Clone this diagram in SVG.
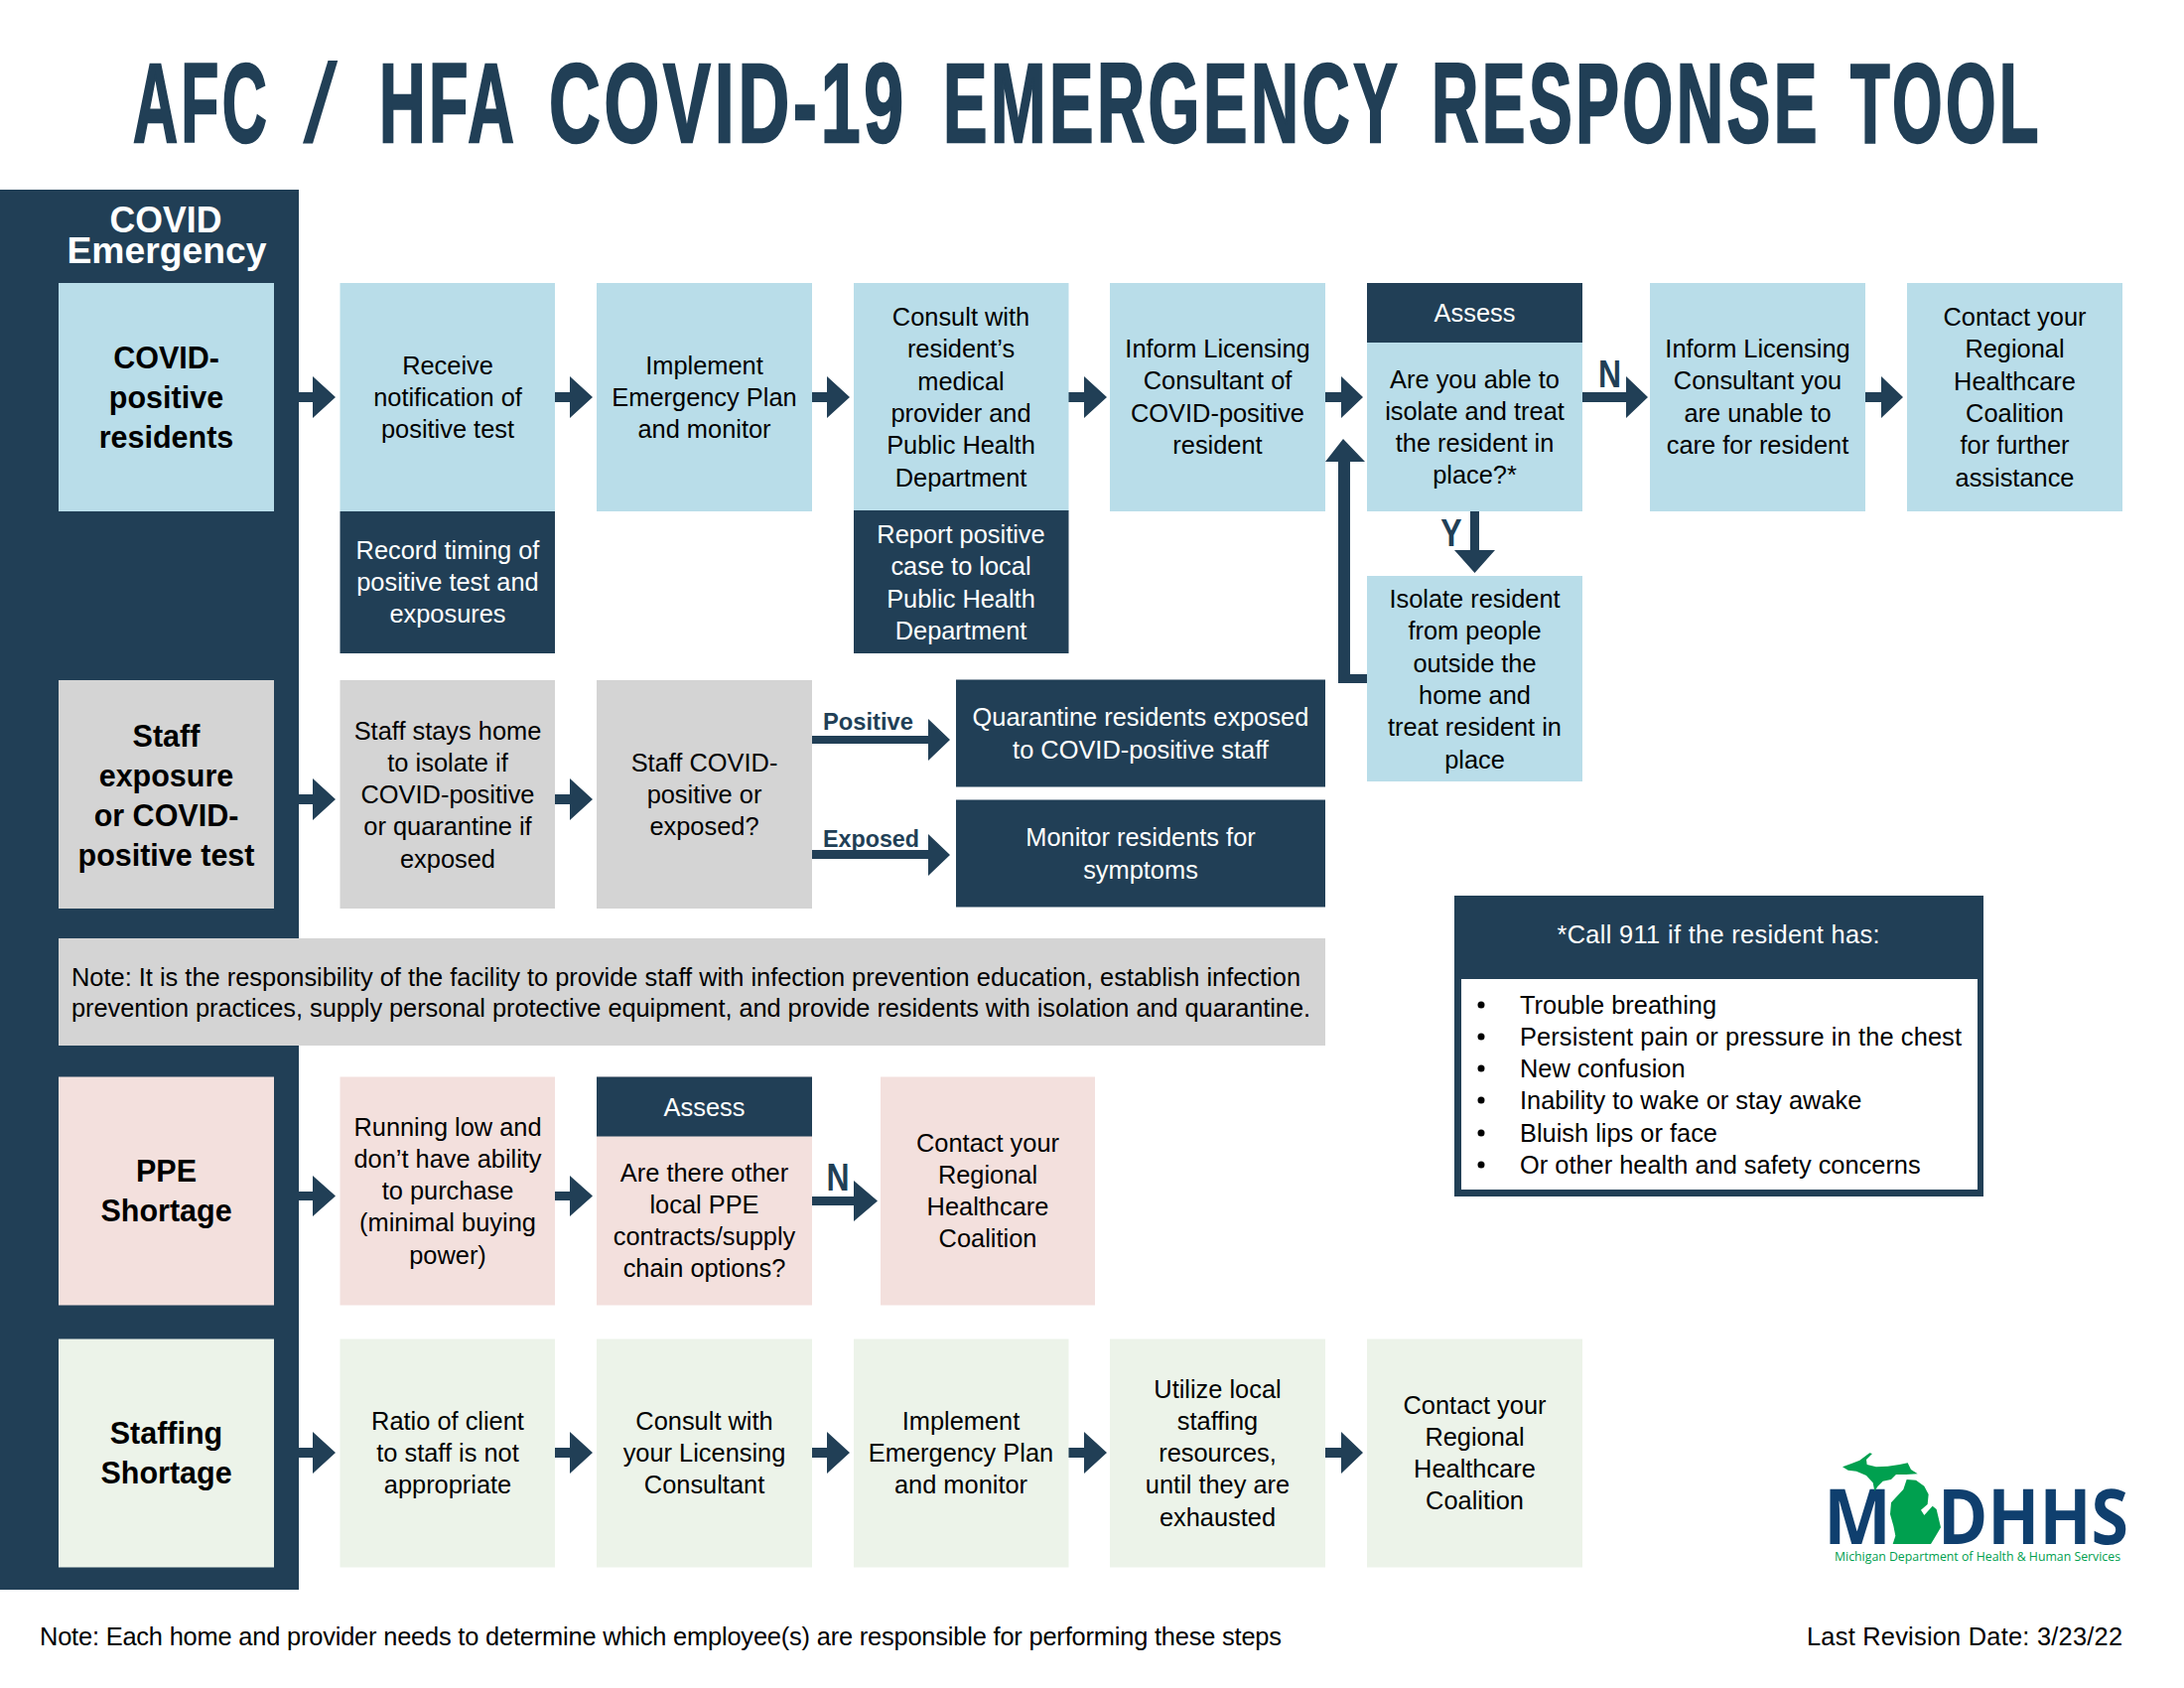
<svg xmlns="http://www.w3.org/2000/svg" width="2200" height="1700" viewBox="0 0 2200 1700">
<style>
text{font-family:"Liberation Sans",Arial,sans-serif;fill:#000}
.b{font-size:25.4px;text-anchor:middle}
.w{fill:#fff}
.h{font-size:30.5px;font-weight:700;text-anchor:middle}
.l{font-size:25.4px}
.lb{fill:#213f56;font-weight:700}
.dark{fill:#213f56}.blue{fill:#b9dde9}.gray{fill:#d4d4d4}.pink{fill:#f3e0dd}.green{fill:#ecf3e9}
.arrow{fill:#213f56}
.t{fill:#213f56;stroke:#213f56;stroke-width:2.5px;font-weight:700;font-size:113px;letter-spacing:6px}
.m{font-family:"Open Sans",sans-serif;fill:#0f3f6e;font-weight:700;font-size:77px}
</style>
<rect width="2200" height="1700" fill="#fff"/>
<text id="title" class="t" y="143"><tspan x="134" textLength="138" lengthAdjust="spacingAndGlyphs">AFC</tspan> <tspan x="305" textLength="42" lengthAdjust="spacingAndGlyphs" style="stroke-width:0;font-weight:400">/</tspan> <tspan x="382" textLength="137" lengthAdjust="spacingAndGlyphs">HFA</tspan> <tspan x="553" textLength="361" lengthAdjust="spacingAndGlyphs">COVID-19</tspan> <tspan x="950" textLength="460" lengthAdjust="spacingAndGlyphs">EMERGENCY</tspan> <tspan x="1442" textLength="392" lengthAdjust="spacingAndGlyphs">RESPONSE</tspan> <tspan x="1864" textLength="193" lengthAdjust="spacingAndGlyphs">TOOL</tspan></text>
<g id="sidebar"><rect class="dark" x="0" y="191" width="301" height="1410"/>
<text x="167" y="234" font-size="37" font-weight="700" text-anchor="middle" class="w" textLength="113" lengthAdjust="spacingAndGlyphs">COVID</text>
<text x="168" y="264.500" font-size="37" font-weight="700" text-anchor="middle" class="w" textLength="201" lengthAdjust="spacingAndGlyphs">Emergency</text></g>

<g id="connectors">
<polygon class="arrow" points="301,395 315,395 315,379 338,400 315,421 315,405 301,405"/>
<polygon class="arrow" points="559,395 574,395 574,379 597,400 574,421 574,405 559,405"/>
<polygon class="arrow" points="818,395 833,395 833,379 856,400 833,421 833,405 818,405"/>
<polygon class="arrow" points="1076,395 1092,395 1092,379 1115,400 1092,421 1092,405 1076,405"/>
<polygon class="arrow" points="1335,395 1351,395 1351,379 1373,400 1351,421 1351,405 1335,405"/>
<polygon class="arrow" points="1594,395 1638,395 1638,379 1660,400 1638,421 1638,405 1594,405"/>
<polygon class="arrow" points="1879,395 1895,395 1895,379 1917,400 1895,421 1895,405 1879,405"/>
<polygon class="arrow" points="1481,515 1490,515 1490,554 1506,554 1485.500,577 1465,554 1481,554"/>
<polygon class="arrow" points="1377,679 1360,679 1360,465 1375,465 1353,442 1335,465 1348,465 1348,688 1377,688"/>
<polygon class="arrow" points="301,800 315,800 315,784 338,805 315,826 315,810 301,810"/>
<polygon class="arrow" points="559,800 574,800 574,784 597,805 574,826 574,810 559,810"/>
<polygon class="arrow" points="818,741 935,741 935,724 957,745 935,766 935,749 818,749"/>
<polygon class="arrow" points="818,856 935,856 935,840 957,861 935,882 935,865 818,865"/>
<polygon class="arrow" points="301,1200 315,1200 315,1184 338,1204.500 315,1225 315,1209 301,1209"/>
<polygon class="arrow" points="559,1200 574,1200 574,1184 597,1204.500 574,1225 574,1209 559,1209"/>
<polygon class="arrow" points="818,1205 860,1205 860,1189 884,1209.500 860,1230 860,1214 818,1214"/>
<polygon class="arrow" points="301,1458 315,1458 315,1442 338,1463 315,1484 315,1468 301,1468"/>
<polygon class="arrow" points="559,1458 574,1458 574,1442 597,1463 574,1484 574,1468 559,1468"/>
<polygon class="arrow" points="818,1458 833,1458 833,1442 856,1463 833,1484 833,1468 818,1468"/>
<polygon class="arrow" points="1076,1458 1092,1458 1092,1442 1115,1463 1092,1484 1092,1468 1076,1468"/>
<polygon class="arrow" points="1335,1458 1351,1458 1351,1442 1373,1463 1351,1484 1351,1468 1335,1468"/>
<text class="lb" transform="translate(1621.500,390) scale(.82,1)" font-size="39" text-anchor="middle">N</text>
<text class="lb" transform="translate(1462,550) scale(.82,1)" font-size="39" text-anchor="middle">Y</text>
<text class="lb" transform="translate(844,1199) scale(.82,1)" font-size="39" text-anchor="middle">N</text>
<text class="lb" x="829" y="735" font-size="24" textLength="91" lengthAdjust="spacingAndGlyphs">Positive</text>
<text class="lb" x="829" y="853" font-size="24" textLength="97" lengthAdjust="spacingAndGlyphs">Exposed</text>
</g>

<g id="n-covid-label"><rect class="blue" x="59" y="285" width="217" height="230"/>
<text class="h" y="371"><tspan x="167.500">COVID-</tspan><tspan x="167.500" dy="40">positive</tspan><tspan x="167.500" dy="40">residents</tspan></text></g>
<g id="n-receive"><rect class="blue" x="342.500" y="285" width="216.500" height="230"/>
<text class="b" y="376.500"><tspan x="451">Receive</tspan><tspan x="451" dy="32.300">notification of</tspan><tspan x="451" dy="32.300">positive test</tspan></text></g>
<g id="n-record"><rect class="dark" x="342.500" y="515" width="216.500" height="143"/>
<text class="b w" y="562.500"><tspan x="451">Record timing of</tspan><tspan x="451" dy="32.300">positive test and</tspan><tspan x="451" dy="32.300">exposures</tspan></text></g>
<g id="n-implement"><rect class="blue" x="601" y="285" width="217" height="230"/>
<text class="b" y="376.500"><tspan x="709.500">Implement</tspan><tspan x="709.500" dy="32.300">Emergency Plan</tspan><tspan x="709.500" dy="32.300">and monitor</tspan></text></g>
<g id="n-consult"><rect class="blue" x="860" y="285" width="216.500" height="230"/>
<text class="b" y="328"><tspan x="968">Consult with</tspan><tspan x="968" dy="32.300">resident’s</tspan><tspan x="968" dy="32.300">medical</tspan><tspan x="968" dy="32.300">provider and</tspan><tspan x="968" dy="32.300">Public Health</tspan><tspan x="968" dy="32.300">Department</tspan></text></g>
<g id="n-report"><rect class="dark" x="860" y="514" width="216.500" height="144"/>
<text class="b w" y="547"><tspan x="968">Report positive</tspan><tspan x="968" dy="32.300">case to local</tspan><tspan x="968" dy="32.300">Public Health</tspan><tspan x="968" dy="32.300">Department</tspan></text></g>
<g id="n-inform"><rect class="blue" x="1118" y="285" width="217" height="230"/>
<text class="b" y="360"><tspan x="1226.500">Inform Licensing</tspan><tspan x="1226.500" dy="32.300">Consultant of</tspan><tspan x="1226.500" dy="32.300">COVID-positive</tspan><tspan x="1226.500" dy="32.300">resident</tspan></text></g>
<g id="n-assess"><rect class="blue" x="1377" y="285" width="217" height="230"/><rect class="dark" x="1377" y="285" width="217" height="60"/>
<text class="b w" x="1485.500" y="324">Assess</text>
<text class="b" y="390.500"><tspan x="1485.500">Are you able to</tspan><tspan x="1485.500" dy="32.300">isolate and treat</tspan><tspan x="1485.500" dy="32.300">the resident in</tspan><tspan x="1485.500" dy="32.300">place?*</tspan></text></g>
<g id="n-unable"><rect class="blue" x="1662" y="285" width="217" height="230"/>
<text class="b" y="360"><tspan x="1770.500">Inform Licensing</tspan><tspan x="1770.500" dy="32.300">Consultant you</tspan><tspan x="1770.500" dy="32.300">are unable to</tspan><tspan x="1770.500" dy="32.300">care for resident</tspan></text></g>
<g id="n-contact1"><rect class="blue" x="1921" y="285" width="217" height="230"/>
<text class="b" y="328"><tspan x="2029.500">Contact your</tspan><tspan x="2029.500" dy="32.300">Regional</tspan><tspan x="2029.500" dy="32.300">Healthcare</tspan><tspan x="2029.500" dy="32.300">Coalition</tspan><tspan x="2029.500" dy="32.300">for further</tspan><tspan x="2029.500" dy="32.300">assistance</tspan></text></g>
<g id="n-isolate"><rect class="blue" x="1377" y="580" width="217" height="207"/>
<text class="b" y="612"><tspan x="1485.500">Isolate resident</tspan><tspan x="1485.500" dy="32.300">from people</tspan><tspan x="1485.500" dy="32.300">outside the</tspan><tspan x="1485.500" dy="32.300">home and</tspan><tspan x="1485.500" dy="32.300">treat resident in</tspan><tspan x="1485.500" dy="32.300">place</tspan></text></g>

<g id="n-staff-label"><rect class="gray" x="59" y="685" width="217" height="230"/>
<text class="h" y="752"><tspan x="167.500">Staff</tspan><tspan x="167.500" dy="40">exposure</tspan><tspan x="167.500" dy="40">or COVID-</tspan><tspan x="167.500" dy="40">positive test</tspan></text></g>
<g id="n-stays"><rect class="gray" x="342.500" y="685" width="216.500" height="230"/>
<text class="b" y="744.500"><tspan x="451">Staff stays home</tspan><tspan x="451" dy="32.300">to isolate if</tspan><tspan x="451" dy="32.300">COVID-positive</tspan><tspan x="451" dy="32.300">or quarantine if</tspan><tspan x="451" dy="32.300">exposed</tspan></text></g>
<g id="n-staffq"><rect class="gray" x="601" y="685" width="217" height="230"/>
<text class="b" y="776.500"><tspan x="709.500">Staff COVID-</tspan><tspan x="709.500" dy="32.300">positive or</tspan><tspan x="709.500" dy="32.300">exposed?</tspan></text></g>
<g id="n-quarantine"><rect class="dark" x="963" y="684.500" width="372" height="108"/>
<text class="b w" y="731"><tspan x="1149">Quarantine residents exposed</tspan><tspan x="1149" dy="32.600">to COVID-positive staff</tspan></text></g>
<g id="n-monitor"><rect class="dark" x="963" y="805.500" width="372" height="108"/>
<text class="b w" y="852"><tspan x="1149">Monitor residents for</tspan><tspan x="1149" dy="32.600">symptoms</tspan></text></g>
<g id="n-note"><rect class="gray" x="59" y="945" width="1276" height="108"/>
<text class="l" x="72" y="992.500" textLength="1238">Note: It is the responsibility of the facility to provide staff with infection prevention education, establish infection</text>
<text class="l" x="72" y="1024" textLength="1248">prevention practices, supply personal protective equipment, and provide residents with isolation and quarantine.</text></g>

<g id="n-911"><rect class="dark" x="1465" y="902" width="533" height="303"/><rect x="1472" y="986" width="520" height="212" fill="#fff"/>
<text class="b w" x="1731" y="950" textLength="325">*Call 911 if the resident has:</text>
<g>
<circle cx="1492" cy="1012" r="3.500"/><text class="l" x="1531" y="1020.500">Trouble breathing</text>
<circle cx="1492" cy="1044" r="3.500"/><text class="l" x="1531" y="1052.500" textLength="445">Persistent pain or pressure in the chest</text>
<circle cx="1492" cy="1076" r="3.500"/><text class="l" x="1531" y="1084.500">New confusion</text>
<circle cx="1492" cy="1108" r="3.500"/><text class="l" x="1531" y="1116.500">Inability to wake or stay awake</text>
<circle cx="1492" cy="1141" r="3.500"/><text class="l" x="1531" y="1149.500">Bluish lips or face</text>
<circle cx="1492" cy="1173" r="3.500"/><text class="l" x="1531" y="1181.500">Or other health and safety concerns</text>
</g></g>

<g id="n-ppe-label"><rect class="pink" x="59" y="1084.500" width="217" height="230"/>
<text class="h" y="1190"><tspan x="167.500">PPE</tspan><tspan x="167.500" dy="40">Shortage</tspan></text></g>
<g id="n-running"><rect class="pink" x="342.500" y="1084.500" width="216.500" height="230"/>
<text class="b" y="1143.500"><tspan x="451">Running low and</tspan><tspan x="451" dy="32.300">don’t have ability</tspan><tspan x="451" dy="32.300">to purchase</tspan><tspan x="451" dy="32.300">(minimal buying</tspan><tspan x="451" dy="32.300">power)</tspan></text></g>
<g id="n-ppe-assess"><rect class="pink" x="601" y="1084.500" width="217" height="230"/><rect class="dark" x="601" y="1084.500" width="217" height="60"/>
<text class="b w" x="709.500" y="1123.500">Assess</text>
<text class="b" y="1189.500"><tspan x="709.500">Are there other</tspan><tspan x="709.500" dy="32.300">local PPE</tspan><tspan x="709.500" dy="32.300">contracts/supply</tspan><tspan x="709.500" dy="32.300">chain options?</tspan></text></g>
<g id="n-ppe-contact"><rect class="pink" x="887" y="1084.500" width="216" height="230"/>
<text class="b" y="1159.500"><tspan x="995">Contact your</tspan><tspan x="995" dy="32.300">Regional</tspan><tspan x="995" dy="32.300">Healthcare</tspan><tspan x="995" dy="32.300">Coalition</tspan></text></g>

<g id="n-staffing-label"><rect class="green" x="59" y="1348.500" width="217" height="230"/>
<text class="h" y="1454"><tspan x="167.500">Staffing</tspan><tspan x="167.500" dy="40">Shortage</tspan></text></g>
<g id="n-ratio"><rect class="green" x="342.500" y="1348.500" width="216.500" height="230"/>
<text class="b" y="1439.500"><tspan x="451">Ratio of client</tspan><tspan x="451" dy="32.300">to staff is not</tspan><tspan x="451" dy="32.300">appropriate</tspan></text></g>
<g id="n-consult2"><rect class="green" x="601" y="1348.500" width="217" height="230"/>
<text class="b" y="1439.500"><tspan x="709.500">Consult with</tspan><tspan x="709.500" dy="32.300">your Licensing</tspan><tspan x="709.500" dy="32.300">Consultant</tspan></text></g>
<g id="n-implement2"><rect class="green" x="860" y="1348.500" width="216.500" height="230"/>
<text class="b" y="1439.500"><tspan x="968">Implement</tspan><tspan x="968" dy="32.300">Emergency Plan</tspan><tspan x="968" dy="32.300">and monitor</tspan></text></g>
<g id="n-utilize"><rect class="green" x="1118" y="1348.500" width="217" height="230"/>
<text class="b" y="1407.500"><tspan x="1226.500">Utilize local</tspan><tspan x="1226.500" dy="32.300">staffing</tspan><tspan x="1226.500" dy="32.300">resources,</tspan><tspan x="1226.500" dy="32.300">until they are</tspan><tspan x="1226.500" dy="32.300">exhausted</tspan></text></g>
<g id="n-contact3"><rect class="green" x="1377" y="1348.500" width="217" height="230"/>
<text class="b" y="1423.500"><tspan x="1485.500">Contact your</tspan><tspan x="1485.500" dy="32.300">Regional</tspan><tspan x="1485.500" dy="32.300">Healthcare</tspan><tspan x="1485.500" dy="32.300">Coalition</tspan></text></g>

<g id="logo">
<text class="m" x="1837" y="1555" textLength="68" lengthAdjust="spacingAndGlyphs">M</text>
<text class="m" x="1952" y="1555" textLength="192" lengthAdjust="spacingAndGlyphs">DHHS</text>
<path transform="translate(1830,1450) scale(.33333)" fill="#00a04f" d="M78,82L105,72L130,62L160,40L168,42L150,60L152,75L180,82L215,80L250,75L275,70L285,90L305,103L270,105L240,105L225,120L200,125L185,140L175,155L170,130L150,108L120,95L95,92ZM272,120L300,122L325,140L338,165L335,195L315,212L325,228L350,200L362,210L375,265L360,290L345,315L230,315L238,290L232,260L222,225L225,190L248,165L262,150Z"/>
<text x="1848" y="1572" font-size="13" style="font-family:'Open Sans',sans-serif;fill:#00a04f" textLength="288" lengthAdjust="spacingAndGlyphs">Michigan Department of Health &amp; Human Services</text>
</g>
<text id="footer-note" class="l" x="40" y="1657" textLength="1251">Note: Each home and provider needs to determine which employee(s) are responsible for performing these steps</text>
<text id="footer-date" class="l" x="1820" y="1657" textLength="318">Last Revision Date: 3/23/22</text>
</svg>
